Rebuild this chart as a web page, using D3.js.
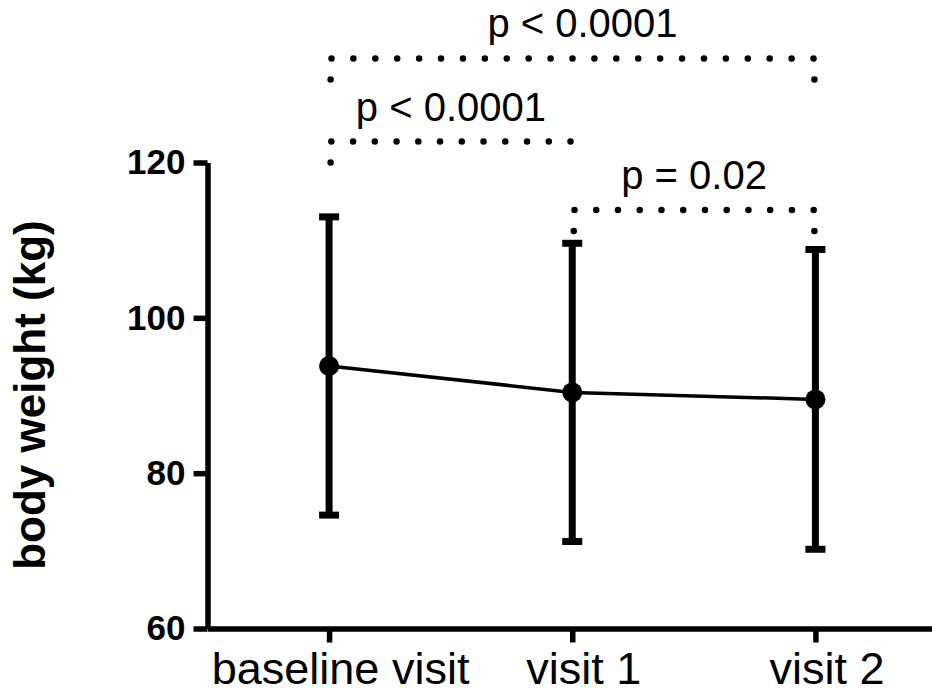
<!DOCTYPE html>
<html>
<head>
<meta charset="utf-8">
<script src="https://cdn.jsdelivr.net/npm/d3@7"></script>
<style>
  body { margin: 0; background: #fff; }
  svg { display: block; font-family: "Liberation Sans", Arial, sans-serif; }
</style>
</head>
<body>
<svg id="chart" width="932" height="697"></svg>
<script>
// values
const categories = ["baseline visit", "visit 1", "visit 2"];
const means = [93.8, 90.4, 89.5];
const sds = [19.2, 19.2, 19.3];
const yTicks = [60, 80, 100, 120];

// significance brackets (index of categories, height in kg)
const bracketFrom = [0, 0, 1];
const bracketTo = [2, 1, 2];
const bracketLevel = [133.4, 122.7, 113.9];
const bracketLabels = ["p < 0.0001", "p < 0.0001", "p = 0.02"];

var svg = d3.select("#chart");

var x = d3.scalePoint()
    .domain(categories)
    .range([207.5, 937])
    .padding(0.5);

var y = d3.scaleLinear()
    .domain([60, 120])
    .range([628.5, 162.5]);

// y axis
var yAxis = svg.append("g")
    .attr("transform", "translate(207.5,0)")
    .call(d3.axisLeft(y).tickValues(yTicks).tickSize(14).tickSizeOuter(0).tickPadding(8));
yAxis.select(".domain").attr("stroke-width", 5.5);
yAxis.selectAll(".tick line").attr("stroke-width", 5.5);
yAxis.selectAll(".tick text")
    .attr("font-size", 35)
    .attr("font-weight", "bold")
    .attr("fill", "#000")
    .attr("font-family", "Liberation Sans, Arial, sans-serif");

// x axis
var xAxis = svg.append("g")
    .attr("transform", "translate(0,628.5)")
    .call(d3.axisBottom(x).tickSize(14).tickSizeOuter(0).tickPadding(10));
xAxis.select(".domain").attr("stroke-width", 5.5);
xAxis.selectAll(".tick line").attr("stroke-width", 5.5);
xAxis.selectAll(".tick text")
    .attr("font-size", 45)
    .attr("dx", 11)
    .attr("fill", "#000")
    .attr("font-family", "Liberation Sans, Arial, sans-serif");

// y label
svg.append("text")
    .attr("transform", "translate(45,395) rotate(-90)")
    .attr("text-anchor", "middle")
    .attr("font-size", 44)
    .attr("font-weight", "bold")
    .text("body weight (kg)");

var pts = categories.map(function(c, i) {
    return { cat: c, mean: means[i], sd: sds[i] };
});

// error bars
var bars = svg.append("g").attr("stroke", "#000").attr("stroke-width", 7);
bars.selectAll("line.bar")
    .data(pts)
    .enter()
    .append("line")
    .attr("class", "bar")
    .attr("x1", d => x(d.cat))
    .attr("x2", d => x(d.cat))
    .attr("y1", d => y(d.mean + d.sd))
    .attr("y2", d => y(d.mean - d.sd));
bars.selectAll("line.capTop")
    .data(pts)
    .enter()
    .append("line")
    .attr("class", "capTop")
    .attr("x1", d => x(d.cat) - 10)
    .attr("x2", d => x(d.cat) + 10)
    .attr("y1", d => y(d.mean + d.sd))
    .attr("y2", d => y(d.mean + d.sd));
bars.selectAll("line.capBottom")
    .data(pts)
    .enter()
    .append("line")
    .attr("class", "capBottom")
    .attr("x1", d => x(d.cat) - 10)
    .attr("x2", d => x(d.cat) + 10)
    .attr("y1", d => y(d.mean - d.sd))
    .attr("y2", d => y(d.mean - d.sd));

// mean line
var line = d3.line()
    .x(d => x(d.cat))
    .y(d => y(d.mean));
svg.append("path")
    .datum(pts)
    .attr("d", line)
    .attr("fill", "none")
    .attr("stroke", "#000")
    .attr("stroke-width", 3.5);

svg.append("g")
    .selectAll("circle")
    .data(pts)
    .enter()
    .append("circle")
    .attr("cx", d => x(d.cat))
    .attr("cy", d => y(d.mean))
    .attr("r", 10)
    .attr("fill", "#000");

// brackets, dotted
var drop = 21;
bracketLabels.forEach(function(label, i) {
    var x1 = x(categories[bracketFrom[i]]) + 1.5;
    var x2 = x(categories[bracketTo[i]]) - 1;
    var yb = y(bracketLevel[i]);
    var len = drop * 2 + (x2 - x1);
    var n = Math.round(len / 22);
    // the widest bracket has its label a little right of centre
    var shift = (bracketTo[i] - bracketFrom[i] > 1) ? 10 : 0;
    svg.append("path")
        .attr("d", "M" + x1 + "," + (yb + drop) + "V" + yb + "H" + x2 + "V" + (yb + drop))
        .attr("fill", "none")
        .attr("stroke", "#000")
        .attr("stroke-width", 6.5)
        .attr("stroke-linecap", "round")
        .attr("stroke-dasharray", "0," + (len / n));
    svg.append("text")
        .attr("x", (x1 + x2) / 2 + shift)
        .attr("y", yb - 21)
        .attr("text-anchor", "middle")
        .attr("font-size", 40)
        .text(label);
});
</script>
</body>
</html>
